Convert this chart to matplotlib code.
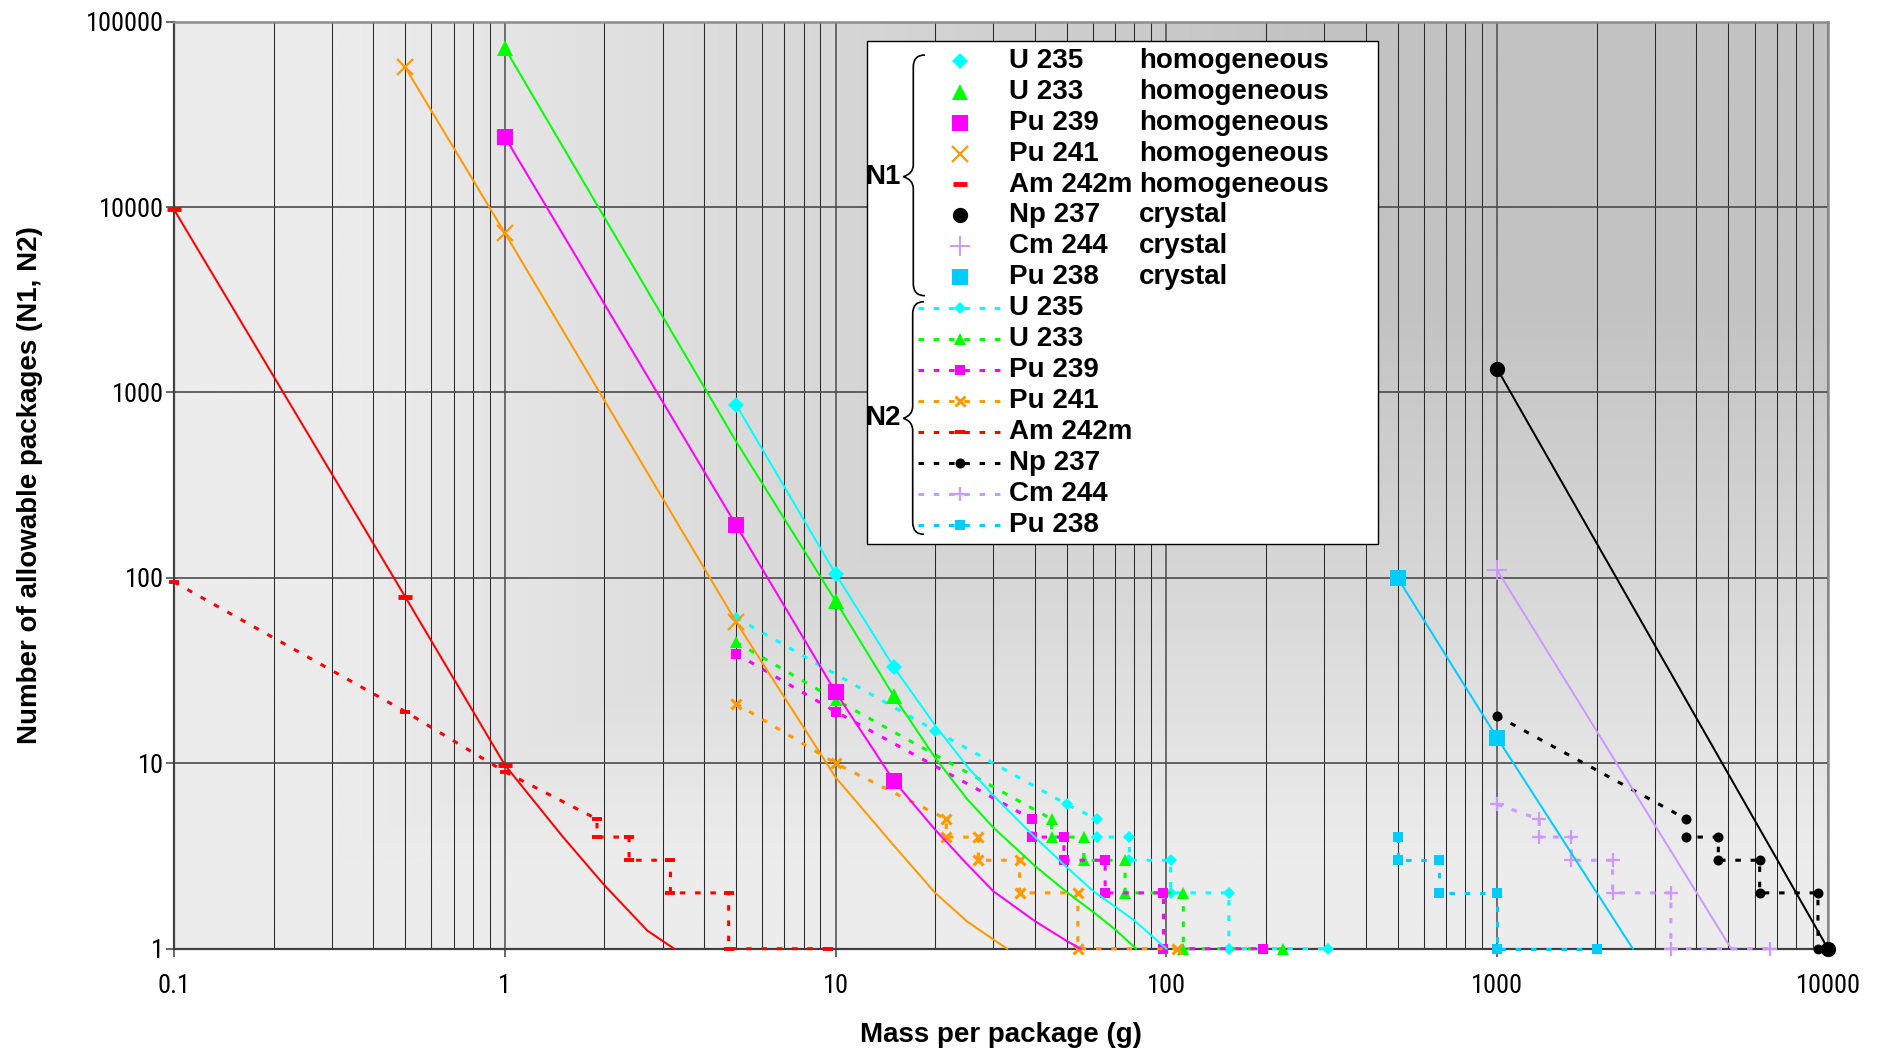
import numpy as np
import matplotlib
matplotlib.use("Agg")
import matplotlib.pyplot as plt
from matplotlib import font_manager
from matplotlib.font_manager import FontProperties
from matplotlib.ticker import FixedLocator, NullFormatter, FixedFormatter
from matplotlib.path import Path
from matplotlib.patches import PathPatch, Rectangle

W, H, DPI = 1883, 1056, 100

# ---------------- data ----------------
nuclides = ["U 235", "U 233", "Pu 239", "Pu 241", "Am 242m", "Np 237", "Cm 244", "Pu 238"]
forms = ["homogeneous", "homogeneous", "homogeneous", "homogeneous", "homogeneous",
         "crystal", "crystal", "crystal"]
colors = ["#00FFFF", "#00FF00", "#FF00FF", "#FF9900", "#FF0000", "#000000", "#CC99FF", "#00CCFF"]
markers = ["D", "^", "s", "x", "_", "o", "+", "s"]

x_ticks = [0.1, 1, 10, 100, 1000, 10000]
x_tick_labels = ["0.1", "1", "10", "100", "1000", "10000"]
y_ticks = [1, 10, 100, 1000, 10000, 100000]
y_tick_labels = ["1", "10", "100", "1000", "10000", "100000"]

# N1: mass per package (g) -> allowable packages
n1_u235_mass = [5, 10, 15, 20, 25, 30, 40, 50, 60, 80, 100]
n1_u235_val = [860, 105, 33, 16, 9.6, 6.7, 4.0, 2.75, 2.05, 1.42, 1.0]
n1_u233_mass = [1, 5, 10, 15, 20, 25, 30, 40, 50, 60, 70, 81]
n1_u233_val = [72000, 545, 75, 23, 10.7, 6.4, 4.5, 2.8, 2.02, 1.58, 1.27, 1.0]
n1_pu239_mass = [1, 5, 10, 15, 20, 25, 30, 40, 50, 55]
n1_pu239_val = [23900, 193, 24.2, 8.04, 4.38, 2.85, 2.04, 1.41, 1.1, 1.0]
n1_pu241_mass = [0.5, 1, 5, 10, 15, 20, 25, 30, 33]
n1_pu241_val = [56700, 7250, 58, 8.4, 3.6, 2.0, 1.4, 1.12, 1.0]
n1_am242m_mass = [0.1, 0.5, 1, 1.5, 2, 2.7, 3.25]
n1_am242m_val = [9700, 79, 9.8, 4.0, 2.2, 1.25, 1.0]
n1_np237_mass = [1000, 10000]
n1_np237_val = [1340, 1]
n1_cm244_mass = [1000, 5100]
n1_cm244_val = [110, 1]
n1_pu238_mass = [500, 1000, 2570]
n1_pu238_val = [100, 13.7, 1]

# indices of the N1 points that carry a marker
n1_u235_marked = [0, 1, 2]
n1_u233_marked = [0, 2, 3]
n1_pu239_marked = [0, 1, 2, 3]
n1_pu241_marked = [0, 1, 2]
n1_am242m_marked = [0, 1, 2]
n1_np237_marked = [0, 1]
n1_cm244_marked = [0]
n1_pu238_marked = [0, 1]

# N2: integer allowable packages (step curves)
n2_u235_mass = [5, 20, 50, 61.8, 61.8, 77.25, 77.25, 103, 103, 154.5, 154.5, 309]
n2_u235_val = [61, 15, 6, 5, 4, 4, 3, 3, 2, 2, 1, 1]
n2_u233_mass = [5, 10, 45, 45, 56.25, 56.25, 75, 75, 112.5, 112.5, 225]
n2_u233_val = [45, 22, 5, 4, 4, 3, 3, 2, 2, 1, 1]
n2_pu239_mass = [5, 10, 39.2, 39.2, 49, 49, 65.3, 65.3, 98, 98, 196]
n2_pu239_val = [39, 19, 5, 4, 4, 3, 3, 2, 2, 1, 1]
n2_pu241_mass = [5, 10, 21.6, 21.6, 27, 27, 36, 36, 54, 54, 108]
n2_pu241_val = [21, 10, 5, 4, 4, 3, 3, 2, 2, 1, 1]
n2_am242m_mass = [0.1, 0.5, 1, 1.9, 1.9, 2.375, 2.375, 3.167, 3.167, 4.75, 4.75, 9.5]
n2_am242m_val = [95, 19, 9, 5, 4, 4, 3, 3, 2, 2, 1, 1]
n2_np237_mass = [1000, 3730, 3730, 4660, 4660, 6215, 6215, 9325, 9325]
n2_np237_val = [18, 5, 4, 4, 3, 3, 2, 2, 1]
n2_cm244_mass = [1000, 1340, 1340, 1675, 1675, 2233, 2233, 3350, 3350, 6700]
n2_cm244_val = [6, 5, 4, 4, 3, 3, 2, 2, 1, 1]
n2_pu238_mass = [500, 500, 667, 667, 1000, 1000, 2000]
n2_pu238_val = [4, 3, 3, 2, 2, 1, 1]

n1_mass = [n1_u235_mass, n1_u233_mass, n1_pu239_mass, n1_pu241_mass,
           n1_am242m_mass, n1_np237_mass, n1_cm244_mass, n1_pu238_mass]
n1_val = [n1_u235_val, n1_u233_val, n1_pu239_val, n1_pu241_val,
          n1_am242m_val, n1_np237_val, n1_cm244_val, n1_pu238_val]
n1_marked = [n1_u235_marked, n1_u233_marked, n1_pu239_marked, n1_pu241_marked,
             n1_am242m_marked, n1_np237_marked, n1_cm244_marked, n1_pu238_marked]
n2_mass = [n2_u235_mass, n2_u233_mass, n2_pu239_mass, n2_pu241_mass,
           n2_am242m_mass, n2_np237_mass, n2_cm244_mass, n2_pu238_mass]
n2_val = [n2_u235_val, n2_u233_val, n2_pu239_val, n2_pu241_val,
          n2_am242m_val, n2_np237_val, n2_cm244_val, n2_pu238_val]

# ---------------- styles ----------------
N1_SIZE = {"D": 8.4, "^": 11.5, "s": 11.0, "x": 11.0, "_": 10.0, "o": 11.0, "+": 15.0}
N2_SIZE = {"D": 5.8, "^": 8.0, "s": 7.2, "x": 7.5, "_": 6.5, "o": 7.2, "+": 10.5}
N1_MEW = {"x": 1.6, "+": 1.4, "_": 3.5}
N2_MEW = {"x": 2.2, "+": 1.6, "_": 2.8}
N2_DASH = (0, (1.8, 3.2))

BASE = ["Liberation Sans", "DejaVu Sans"]
plt.rcParams["font.family"] = BASE


def condensed_font_file():
    """Look for an installed regular-weight narrow/condensed sans face."""
    prefs = ["Liberation Sans Narrow", "Arial Narrow", "Roboto Condensed",
             "DejaVu Sans Condensed", "DejaVu Sans", "Noto Sans", "Open Sans Condensed",
             "Open Sans"]
    regular = (400, "normal", "regular", "book")
    for fam in prefs:
        for e in font_manager.fontManager.ttflist:
            narrow = ("Narrow" in e.name or "Condensed" in e.name
                      or str(e.stretch) in ("condensed", "semi-condensed"))
            if e.name == fam and narrow and e.style == "normal" and e.weight in regular:
                return e.fname
    return None


cond_file = condensed_font_file()
if cond_file:
    TICK_FP = FontProperties(fname=cond_file, size=19)
else:
    TICK_FP = FontProperties(family=BASE, size=16.5)


def marker_kw(m, color, sizes, mews):
    kw = dict(marker=m, markersize=sizes[m])
    if m in mews:
        kw.update(markeredgewidth=mews[m], markeredgecolor=color, markerfacecolor=color)
    else:
        kw.update(markeredgewidth=0, markerfacecolor=color)
    return kw


# ---------------- figure ----------------
fig = plt.figure(figsize=(W / DPI, H / DPI), dpi=DPI)
ax_left, ax_right, ax_top, ax_bottom = 174.0, 1828.0, 21.6, 948.7
ax_rect = [ax_left / W, 1 - ax_bottom / H, (ax_right - ax_left) / W, (ax_bottom - ax_top) / H]

# gradient plot-area fill, darkening toward the upper right corner
bg = fig.add_axes(ax_rect, zorder=-1)
u = np.linspace(0, 1, 500)
v = np.linspace(0, 1, 300)
U, V = np.meshgrid(u, v)
t = np.minimum(U, V)
g = np.clip((t - 0.1) / 0.6, 0, 1)
shade = (236 - 42 * g) / 255.0
bg.imshow(np.dstack([shade, shade, shade]), extent=[0, 1, 0, 1], origin="lower",
          aspect="auto", interpolation="bilinear")
bg.set_axis_off()

ax = fig.add_axes(ax_rect)
ax.set_facecolor("none")
ax.set_xscale("log")
ax.set_yscale("log")
ax.set_xlim(0.1, 10000)
ax.set_ylim(1, 100000)

ax.xaxis.set_major_locator(FixedLocator(x_ticks))
ax.xaxis.set_major_formatter(FixedFormatter(x_tick_labels))
ax.yaxis.set_major_locator(FixedLocator(y_ticks))
ax.yaxis.set_major_formatter(FixedFormatter(y_tick_labels))
minor_x = [d * k for d in [0.1, 1, 10, 100, 1000] for k in range(2, 10)]
ax.xaxis.set_minor_locator(FixedLocator(minor_x))
ax.xaxis.set_minor_formatter(NullFormatter())
ax.yaxis.set_minor_locator(FixedLocator([]))

ax.set_axisbelow(True)
ax.grid(True, which="minor", axis="x", color="#2a2a2a", linewidth=0.75)
ax.grid(True, which="major", axis="x", color="#4a4a4a", linewidth=1.1)
ax.grid(True, which="major", axis="y", color="#4a4a4a", linewidth=1.2)

ax.tick_params(which="minor", length=0)
ax.tick_params(which="major", direction="out", length=6, width=1.1, color="#404040")
ax.tick_params(axis="x", which="major", pad=12)
ax.tick_params(axis="y", which="major", pad=1)
for lbl in ax.get_xticklabels() + ax.get_yticklabels():
    lbl.set_fontproperties(TICK_FP)

for side in ("left", "bottom"):
    ax.spines[side].set_color("#404040")
    ax.spines[side].set_linewidth(1.6)
for side in ("top", "right"):
    ax.spines[side].set_color("#8c8c8c")
    ax.spines[side].set_linewidth(1.8)

ax.set_xlabel("Mass per package (g)", fontsize=20, fontweight="bold", va="center")
ax.xaxis.set_label_coords(0.5, -0.0931)
ax.set_ylabel("Number of allowable packages (N1, N2)", fontsize=20, fontweight="bold",
              va="center")
ax.yaxis.set_label_coords(-0.0871, 0.5)

# N1 curves: solid lines, large markers
for i in range(len(nuclides)):
    ax.plot(n1_mass[i], n1_val[i], color=colors[i], linewidth=1.45, linestyle="-",
            markevery=n1_marked[i], clip_on=False, zorder=4,
            **marker_kw(markers[i], colors[i], N1_SIZE, N1_MEW))

# N2 curves: dotted step lines, small markers
for i in range(len(nuclides)):
    ax.plot(n2_mass[i], n2_val[i], color=colors[i], linewidth=2.2, linestyle=N2_DASH,
            clip_on=False, zorder=3,
            **marker_kw(markers[i], colors[i], N2_SIZE, N2_MEW))

# ---------------- legend box ----------------
leg_left, leg_top, leg_right, leg_bottom = 866.7, 41.0, 1377.7, 544.0
lax = fig.add_axes([leg_left / W, 1 - leg_bottom / H,
                    (leg_right - leg_left) / W, (leg_bottom - leg_top) / H], zorder=5)
lax.set_xlim(leg_left, leg_right)
lax.set_ylim(leg_bottom, leg_top)
lax.set_axis_off()
lax.add_patch(Rectangle((leg_left, leg_top), leg_right - leg_left, leg_bottom - leg_top,
                        facecolor="white", edgecolor="black", linewidth=1.0, clip_on=False))

row0, row_step = 60.7, 30.95
sym_x, line_x0, line_x1 = 960.0, 918.0, 1003.0
name_x, form_x = 1009.3, 1139.3
TXT = dict(fontsize=20, fontweight="bold", va="center", ha="left", color="black")

n = len(nuclides)
for i in range(n):
    y1 = row0 + row_step * i
    lax.plot([sym_x], [y1], linestyle="none", clip_on=False,
             **marker_kw(markers[i], colors[i], N1_SIZE, N1_MEW))
    lax.text(name_x, y1, nuclides[i], **TXT)
    lax.text(form_x, y1, forms[i], **TXT)

    y2 = row0 + row_step * (n + i)
    lax.plot([line_x0, line_x1], [y2, y2], color=colors[i], linewidth=2.2,
             linestyle=N2_DASH, clip_on=False)
    lax.plot([sym_x], [y2], linestyle="none", clip_on=False,
             **marker_kw(markers[i], colors[i], N2_SIZE, N2_MEW))
    lax.text(name_x, y2, nuclides[i], **TXT)


def draw_brace(axis, x_end, x_spine, x_tip, y_top, y_tip, y_bot, r=12.0):
    verts = [
        (x_end, y_top), (x_spine, y_top), (x_spine, y_top + r),
        (x_spine, y_tip - r),
        (x_spine, y_tip - 0.25 * r), (x_tip, y_tip),
        (x_spine, y_tip + 0.25 * r), (x_spine, y_tip + r),
        (x_spine, y_bot - r),
        (x_spine, y_bot), (x_end, y_bot),
    ]
    codes = [Path.MOVETO, Path.CURVE3, Path.CURVE3,
             Path.LINETO,
             Path.CURVE3, Path.CURVE3,
             Path.CURVE3, Path.CURVE3,
             Path.LINETO,
             Path.CURVE3, Path.CURVE3]
    axis.add_patch(PathPatch(Path(verts, codes), fill=False, edgecolor="black",
                             linewidth=1.2, clip_on=False))


draw_brace(lax, 925.0, 913.3, 903.3, 55.0, 176.7, 295.7)
draw_brace(lax, 924.0, 912.7, 903.3, 301.7, 418.3, 534.3)
lax.text(883.0, 176.7, "N1", fontsize=20, fontweight="bold", ha="center", va="center")
lax.text(883.0, 418.3, "N2", fontsize=20, fontweight="bold", ha="center", va="center")

fig.savefig("out.png", dpi=DPI)
